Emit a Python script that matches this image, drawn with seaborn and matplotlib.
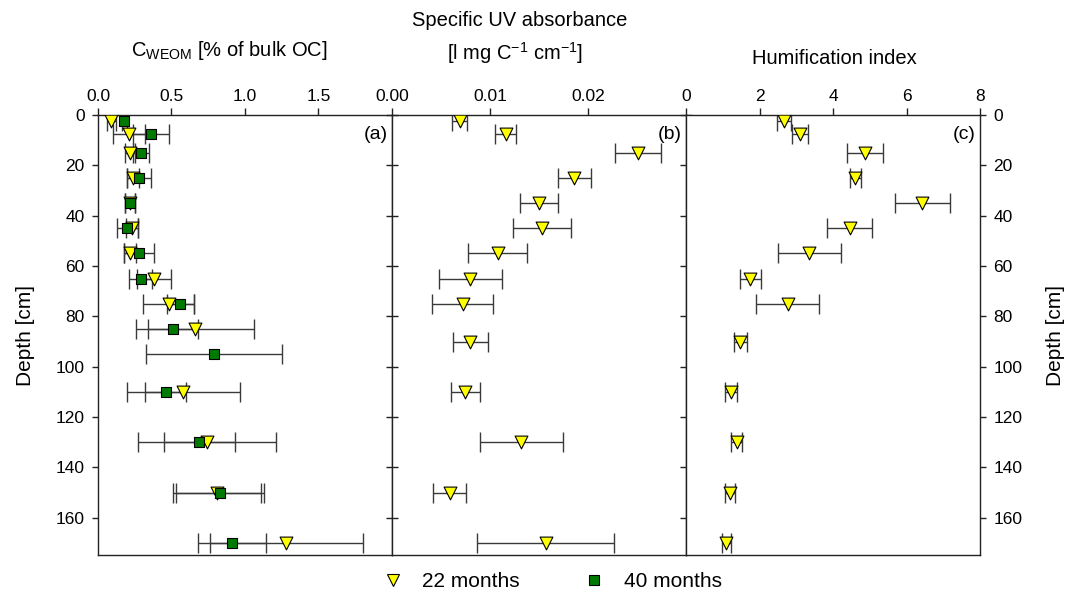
import numpy as np
import pandas as pd
import seaborn as sns
import matplotlib.pyplot as plt
from matplotlib.lines import Line2D

# depths of the sampled layers [cm]
depth_a22 = [2.5, 7.5, 15, 25, 35, 45, 55, 65, 75, 85, 110, 130, 150, 170]
depth_a40 = [2.5, 7.5, 15, 25, 35, 45, 55, 65, 75, 85, 95, 110, 130, 150, 170]
depth_bc = [2.5, 7.5, 15, 25, 35, 45, 55, 65, 75, 90, 110, 130, 150, 170]

# (a) C_WEOM, % of bulk OC
cweom_22 = [0.09, 0.21, 0.22, 0.24, 0.22, 0.23, 0.22, 0.38, 0.48, 0.66, 0.58, 0.74, 0.81, 1.28]
cweom_22_err = [0.03, 0.11, 0.035, 0.04, 0.035, 0.04, 0.04, 0.115, 0.175, 0.40, 0.385, 0.47, 0.30, 0.52]
cweom_40 = [0.18, 0.36, 0.29, 0.28, 0.22, 0.20, 0.28, 0.29, 0.56, 0.51, 0.79, 0.46, 0.69, 0.83, 0.91]
cweom_40_err = [0.02, 0.12, 0.055, 0.08, 0.035, 0.07, 0.10, 0.08, 0.09, 0.17, 0.46, 0.14, 0.24, 0.30, 0.23]

# (b) specific UV absorbance, 22 months
suva_22 = [0.0069, 0.0116, 0.0251, 0.0186, 0.0150, 0.0153, 0.0108, 0.0080, 0.0072,
           0.0080, 0.0075, 0.0132, 0.0059, 0.0157]
suva_22_err = [0.0008, 0.0011, 0.0023, 0.0017, 0.0019, 0.0030, 0.0030, 0.0032, 0.0031,
               0.0018, 0.0015, 0.0042, 0.0017, 0.0070]

# (c) humification index, 22 months
hix_22 = [2.66, 3.10, 4.87, 4.61, 6.43, 4.45, 3.36, 1.75, 2.77, 1.48, 1.23, 1.38, 1.19, 1.10]
hix_22_err = [0.19, 0.21, 0.49, 0.155, 0.75, 0.62, 0.85, 0.28, 0.86, 0.18, 0.17, 0.15, 0.14, 0.13]

#%%
sns.set_theme(style="white")
plt.rcParams['font.family'] = ['Liberation Sans', 'DejaVu Sans']
plt.rcParams['mathtext.default'] = 'regular'
plt.rcParams['axes.edgecolor'] = '#222222'
plt.rcParams['axes.linewidth'] = 1.0
plt.rcParams['text.color'] = 'black'
plt.rcParams['axes.labelcolor'] = 'black'
plt.rcParams['xtick.color'] = '#222222'
plt.rcParams['ytick.color'] = '#222222'
plt.rcParams['xtick.labelcolor'] = 'black'
plt.rcParams['ytick.labelcolor'] = 'black'

yellow = "#ffff00"
green = "#007a00"
ebar_col = "#3a3a3a"

fig, axes = plt.subplots(1, 3, figsize=(10.72, 5.92), dpi=100)
fig.subplots_adjust(left=0.0914, right=0.9142, top=0.8057, bottom=0.0617, wspace=0)


def draw(ax, x, y, err, marker, color, size):
    ax.errorbar(x, y, xerr=err, fmt="none", ecolor=ebar_col, elinewidth=1.0,
                capsize=7, capthick=1.0, zorder=2)
    df = pd.DataFrame({"x": x, "depth": y})
    sns.scatterplot(data=df, x="x", y="depth", ax=ax, marker=marker, color=color,
                    edgecolor="black", linewidth=0.8, s=size, zorder=3, legend=False)


draw(axes[0], cweom_22, depth_a22, cweom_22_err, "v", yellow, 85)
draw(axes[0], cweom_40, depth_a40, cweom_40_err, "s", green, 62)
draw(axes[1], suva_22, depth_bc, suva_22_err, "v", yellow, 85)
draw(axes[2], hix_22, depth_bc, hix_22_err, "v", yellow, 85)

axes[0].set_xlim(0, 2.0)
axes[0].set_xticks([0, 0.5, 1.0, 1.5])
axes[0].set_xticklabels(["0.0", "0.5", "1.0", "1.5"])
axes[1].set_xlim(0, 0.03)
axes[1].set_xticks([0, 0.01, 0.02])
axes[1].set_xticklabels(["0.00", "0.01", "0.02"])
axes[2].set_xlim(0, 8)
axes[2].set_xticks([0, 2, 4, 6, 8])

for ax, lab in zip(axes, ["(a)", "(b)", "(c)"]):
    ax.set_ylim(175, 0)
    ax.set_yticks(np.arange(0, 161, 20))
    ax.xaxis.tick_top()
    ax.tick_params(axis="x", direction="out", length=5, width=1, labelsize=12.5, pad=3)
    ax.set_xlabel("")
    ax.set_ylabel("")
    ax.text(0.985, 0.975, lab, transform=ax.transAxes, ha="right", va="top", fontsize=14)

axes[0].tick_params(axis="y", left=True, right=False, direction="out", length=4.5,
                    width=1, labelsize=12.5, labelleft=True, pad=5)
axes[1].tick_params(axis="y", left=True, right=True, direction="inout", length=8,
                    width=1, labelleft=False)
axes[2].yaxis.tick_right()
axes[2].tick_params(axis="y", left=False, right=True, direction="out", length=4.5,
                    width=1, labelsize=12.5, labelright=True, labelleft=False, pad=5)

axes[0].set_ylabel("Depth [cm]", fontsize=15, labelpad=15)
axes[2].yaxis.set_label_position("right")
axes[2].set_ylabel("Depth [cm]", fontsize=15, labelpad=17)

# column titles
fig.text(229 / 1072, 1 - 50 / 592, "C$_{WEOM}$ [% of bulk OC]", ha="center", va="center", fontsize=14.5)
fig.text(520 / 1072, 1 - 20 / 592, "Specific UV absorbance", ha="center", va="center", fontsize=14.5)
fig.text(515 / 1072, 1 - 53 / 592, "[l mg C$^{-1}$ cm$^{-1}$]", ha="center", va="center", fontsize=14.5)
fig.text(834 / 1072, 1 - 58 / 592, "Humification index", ha="center", va="center", fontsize=14.5)

handles = [
    Line2D([], [], linestyle="none", marker="v", markersize=8.5, markerfacecolor=yellow,
           markeredgecolor="black", markeredgewidth=0.8, label="22 months"),
    Line2D([], [], linestyle="none", marker="s", markersize=7.5, markerfacecolor=green,
           markeredgecolor="black", markeredgewidth=0.8, label="40 months"),
]
fig.legend(handles=handles, loc="lower center", bbox_to_anchor=(0.51, -0.03), ncol=2,
           frameon=False, fontsize=15, handletextpad=0.4, columnspacing=2.6)

fig.savefig("out.png", dpi=100)
